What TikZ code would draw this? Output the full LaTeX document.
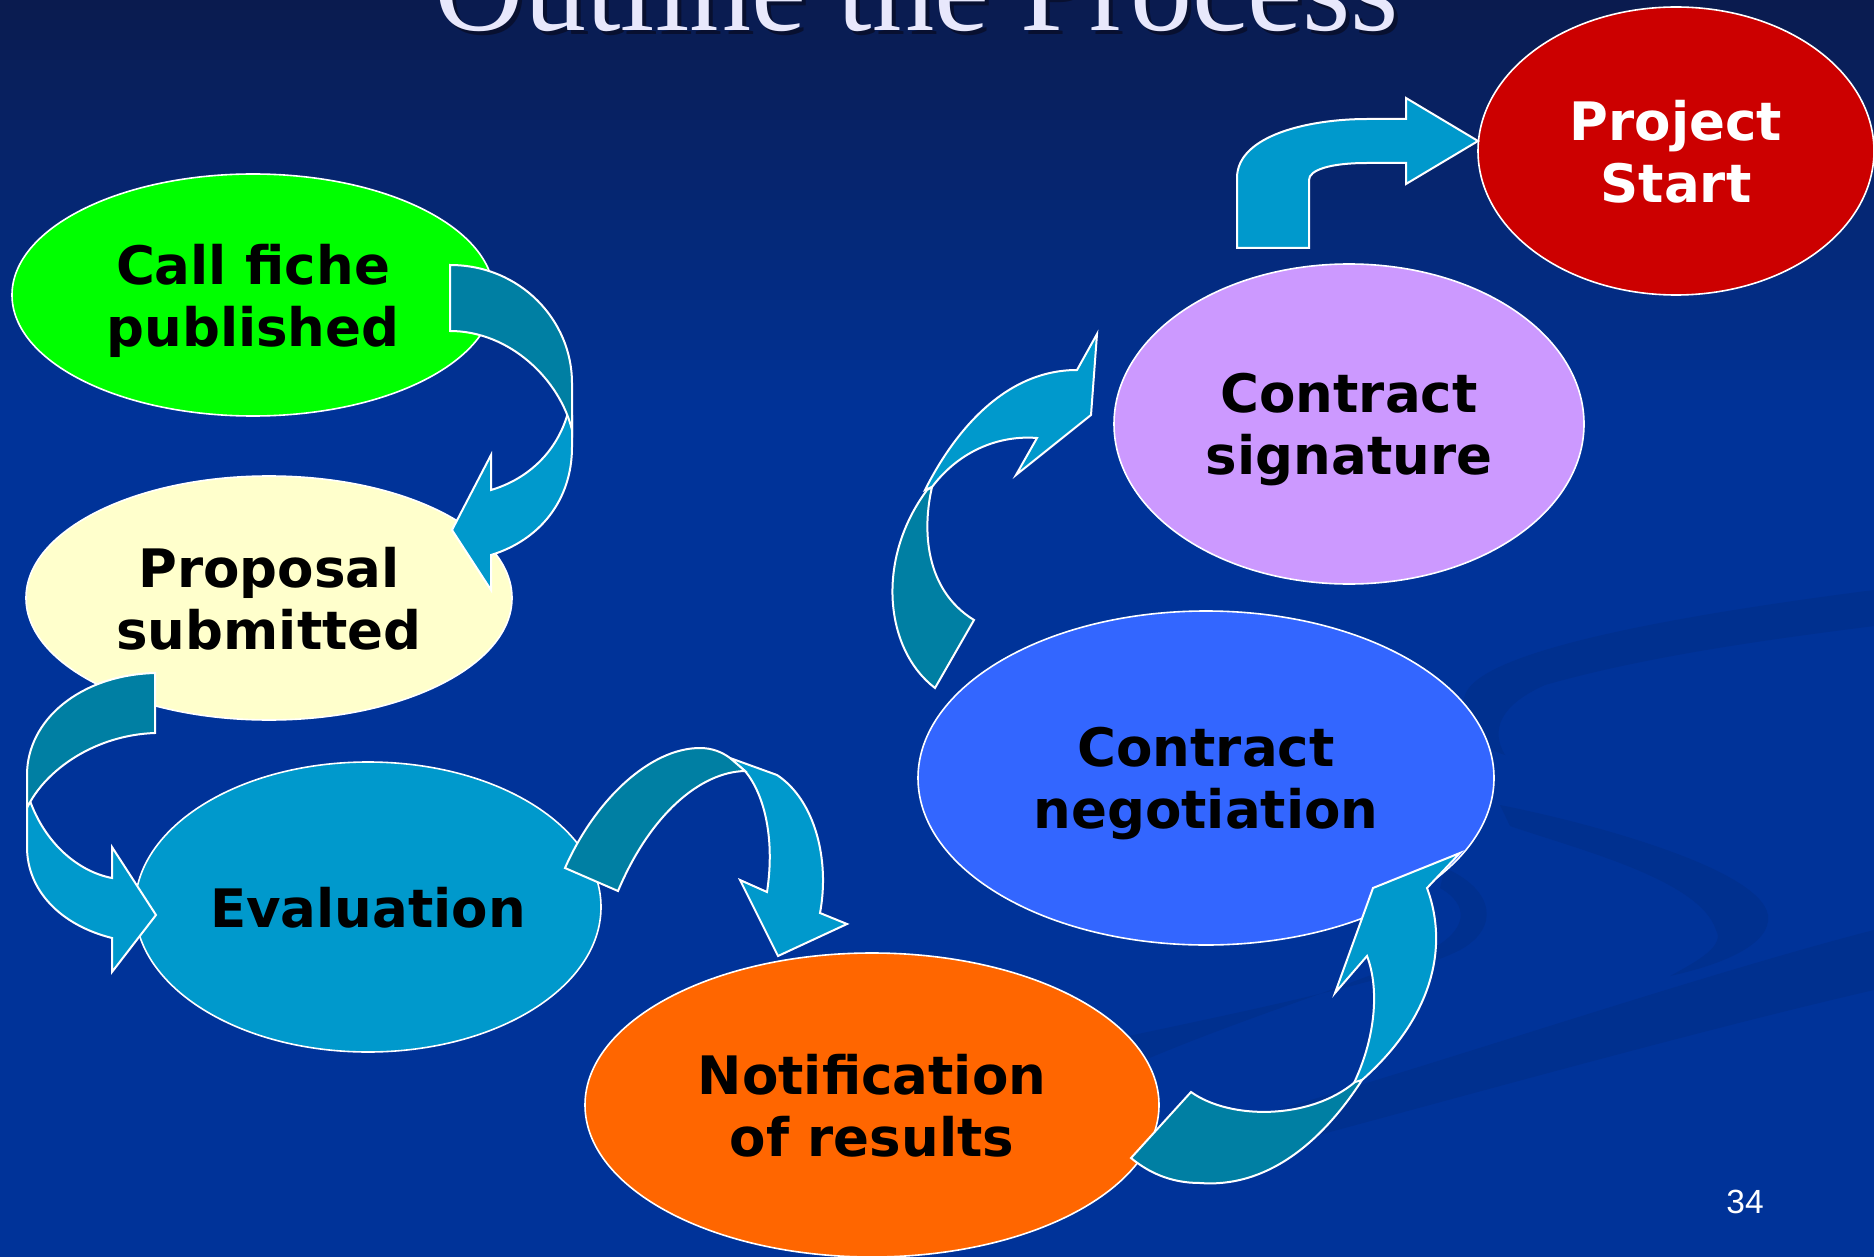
\documentclass[tikz,border=0pt]{standalone}
\usepackage{fontspec}
\setmainfont{DejaVu Sans}
\newfontfamily\titlefont{Liberation Serif}
\newfontfamily\numfont{Liberation Sans}
\usetikzlibrary{shapes.geometric}
\definecolor{bgblue}{HTML}{003399}
\definecolor{bgtop}{HTML}{0A1B4F}
\definecolor{swirl}{HTML}{00308F}
\definecolor{arrowlight}{HTML}{0099CC}
\definecolor{arrowdark}{HTML}{007FA3}
\definecolor{titlecol}{HTML}{E8E8FC}
\definecolor{titleshadow}{HTML}{081030}
\definecolor{cgreen}{HTML}{00FF00}
\definecolor{cyellow}{HTML}{FFFFCC}
\definecolor{cteal}{HTML}{0099CC}
\definecolor{corange}{HTML}{FF6600}
\definecolor{cblue}{HTML}{3366FF}
\definecolor{cviolet}{HTML}{CC99FF}
\definecolor{cred}{HTML}{CC0000}
\begin{document}
\begin{tikzpicture}[x=0.5pt,y=-0.5pt,
  stage/.style={ellipse, draw=white, line width=0.8pt, inner sep=0pt, align=center,
    text depth=0pt, font=\fontsize{26.5}{31}\selectfont\bfseries, text=black},
  front/.style={fill=arrowlight, draw=white, line width=1pt, line join=miter},
  back/.style={fill=arrowdark, draw=white, line width=1pt, line join=miter},
  band/.style={fill=swirl, draw=none}]
% background
\useasboundingbox (0,0) rectangle (1874,1257);
\fill[bgblue] (0,0) rectangle (1874,1257);
\foreach \i in {0,...,41}{
  \pgfmathsetmacro{\p}{\i*100/41}
  \fill[bgblue!\p!bgtop] (0,\i*10) rectangle (1874,\i*10+11);
}
% background swirls
\fill[band] (1874,590) .. controls (1680,615) and (1480,650) .. (1465,695)
  .. controls (1455,725) and (1475,745) .. (1505,755)
  .. controls (1490,730) and (1500,705) .. (1545,685)
  .. controls (1650,655) and (1780,638) .. (1874,626) -- cycle;
\fill[band] (1500,805) .. controls (1600,825) and (1760,870) .. (1768,915)
  .. controls (1772,945) and (1720,965) .. (1670,976)
  .. controls (1700,960) and (1725,945) .. (1716,930)
  .. controls (1700,880) and (1580,850) .. (1510,826) -- cycle;
\fill[band] (1110,1040) .. controls (1250,1010) and (1400,980) .. (1460,950)
  .. controls (1500,928) and (1495,890) .. (1445,868) -- (1440,888)
  .. controls (1470,905) and (1468,930) .. (1430,950)
  .. controls (1370,980) and (1250,1015) .. (1140,1062) -- cycle;
\fill[band] (1250,1118) .. controls (1450,1060) and (1700,975) .. (1874,930)
  -- (1874,990) .. controls (1700,1030) and (1450,1100) .. (1300,1140) -- cycle;
% title
\node[font=\titlefont\fontsize{62}{62}\selectfont, text=titleshadow, anchor=base] (titleshadow) at (921,35) {Outline the Process};
\node[font=\titlefont\fontsize{62}{62}\selectfont, text=titlecol, anchor=base] (title) at (917,31) {Outline the Process};
% stages
\node[stage, fill=cgreen, minimum width=241pt, minimum height=121pt] (call) at (253,295) {Call fiche\\published};
\node[stage, fill=cyellow, minimum width=243pt, minimum height=122pt] (proposal) at (269,598) {Proposal\\submitted};
\node[stage, fill=cteal, minimum width=233pt, minimum height=145pt] (evaluation) at (368,907) {Evaluation};
\node[stage, fill=corange, minimum width=287pt, minimum height=152pt] (notification) at (872,1105) {Notification\\of results};
\node[stage, fill=cblue, minimum width=288pt, minimum height=167pt] (negotiation) at (1206,778) {Contract\\negotiation};
\node[stage, fill=cviolet, minimum width=235pt, minimum height=160pt] (signature) at (1349,424) {Contract\\signature};
\node[stage, fill=cred, text=white, minimum width=198pt, minimum height=144pt] (start) at (1676,151) {Project\\Start};
% arrow 1: call -> proposal
\draw[front] (567,416) .. controls (555,455) and (525,480) .. (491,490) -- (491,455) -- (452,530)
  -- (491,590) -- (491,555) .. controls (540,540) and (572,500) .. (572,447) -- (572,416) -- cycle;
\draw[back] (450,265) .. controls (520,265) and (572,320) .. (572,383) -- (572,430)
  .. controls (560,380) and (510,331) .. (450,331) -- cycle;
% arrow 2: proposal -> evaluation
\draw[front] (29,798) .. controls (45,845) and (80,872) .. (112,878) -- (112,847) -- (156,915)
  -- (112,972) -- (112,938) .. controls (60,925) and (27,890) .. (27,847) -- (27,795) -- cycle;
\draw[back] (155,673) .. controls (80,675) and (27,720) .. (27,775) -- (27,808)
  .. controls (45,770) and (95,735) .. (155,733) -- cycle;
% arrow 3: evaluation -> notification
\draw[front] (730,758) -- (777,775) .. controls (815,800) and (830,860) .. (820,913) -- (847,924)
  -- (778,956) -- (740,880) -- (767,892) .. controls (775,840) and (765,795) .. (745,771) -- cycle;
\draw[back] (565,868) .. controls (595,800) and (650,748) .. (700,748)
  .. controls (712,748) and (722,752) .. (730,758) -- (745,771)
  .. controls (700,772) and (650,815) .. (618,891) -- cycle;
% arrow 4: notification -> negotiation
\draw[front] (1353,1085) .. controls (1375,1040) and (1380,990) .. (1367,956) -- (1335,993)
  -- (1373,888) -- (1460,853) -- (1427,888) .. controls (1450,950) and (1430,1020) .. (1362,1080) -- cycle;
\draw[back] (1131,1158) -- (1191,1092) .. controls (1230,1120) and (1310,1120) .. (1355,1082)
  -- (1362,1080) .. controls (1320,1145) and (1265,1188) .. (1200,1183)
  .. controls (1170,1183) and (1148,1172) .. (1131,1158) -- cycle;
% arrow 5: negotiation -> signature
\draw[front] (925,490) .. controls (950,440) and (1000,370) .. (1077,370) -- (1097,334) -- (1091,415)
  -- (1016,475) -- (1037,438) .. controls (1000,435) and (960,450) .. (932,487) -- cycle;
\draw[back] (935,688) .. controls (885,650) and (875,560) .. (927,490) -- (932,487)
  .. controls (922,530) and (925,590) .. (974,620) -- cycle;
% arrow 6: signature -> start
\draw[front] (1237,248) -- (1237,178) .. controls (1237,135) and (1310,119) .. (1367,119) -- (1406,119)
  -- (1406,98) -- (1478,141) -- (1406,184) -- (1406,163) -- (1367,163)
  .. controls (1330,163) and (1309,170) .. (1309,180) -- (1309,248) -- cycle;
% page number
\node[font=\numfont\fontsize{16.75}{20}\selectfont, text=white, anchor=base] (pagenum) at (1745,1213) {34};
\end{tikzpicture}
\end{document}
